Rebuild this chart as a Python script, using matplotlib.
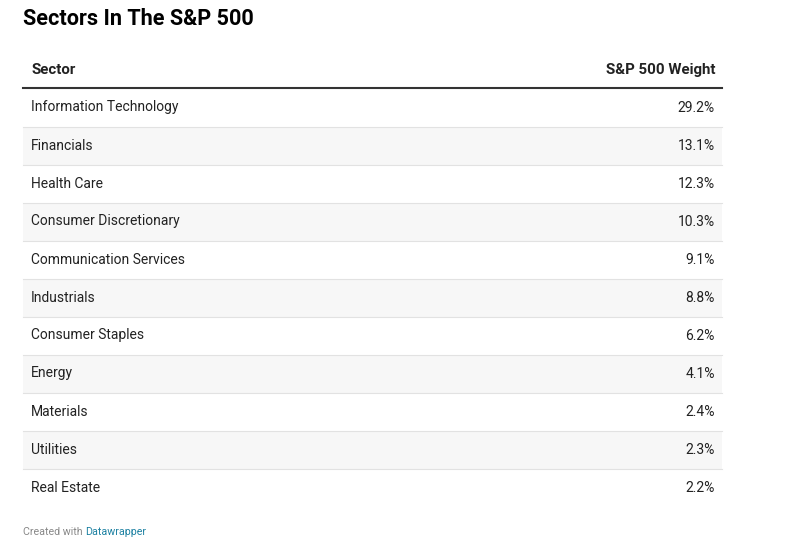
import matplotlib
matplotlib.use("Agg")
import matplotlib.pyplot as plt
from matplotlib.patches import Rectangle

title = "Sectors In The S&P 500"
headers = ["Sector", "S&P 500 Weight"]
sectors = ["Information Technology", "Financials", "Health Care", "Consumer Discretionary",
           "Communication Services", "Industrials", "Consumer Staples", "Energy",
           "Materials", "Utilities", "Real Estate"]
weights = [29.2, 13.1, 12.3, 10.3, 9.1, 8.8, 6.2, 4.1, 2.4, 2.3, 2.2]

plt.rcParams['font.family'] = ['Roboto', 'DejaVu Sans']
fig = plt.figure(figsize=(7.85, 5.41), dpi=100)
ax = fig.add_axes([0, 0, 1, 1])
ax.set_xlim(0, 785); ax.set_ylim(541, 0); ax.axis('off')

ax.text(23, 19, title, fontsize=15.6, fontweight='bold', va='center', ha='left', color='#000')
ax.text(31, 70, headers[0], fontsize=10.8, fontweight='bold', va='center', ha='left', color='#222')
ax.text(715, 70, headers[1], fontsize=10.8, fontweight='bold', va='center', ha='right', color='#222')
ax.plot([23, 722], [88, 88], color='#333', lw=1.5)

top, h = 88.5, 38
for i, (s, w) in enumerate(zip(sectors, weights)):
    y0 = top + i * h
    if i % 2 == 1:
        ax.add_patch(Rectangle((23, y0), 699, h, color='#f7f7f7', lw=0))
    if i > 0:
        ax.plot([23, 722], [y0, y0], color='#e2e2e2', lw=0.8)
    yc = y0 + h / 2
    ax.text(31, yc, s, fontsize=10, va='center', ha='left', color='#222')
    ax.text(715, yc, f"{w:.1f}%", fontsize=10, va='center', ha='right', color='#222')

t = ax.text(23, 532, "Created with ", fontsize=7.7, va='center', ha='left', color='#888')
fig.canvas.draw()
bb = t.get_window_extent()
ax.text(23 + bb.width, 532, "Datawrapper", fontsize=7.7, va='center', ha='left', color='#1d81a2')
fig.savefig("out.png", dpi=100)
